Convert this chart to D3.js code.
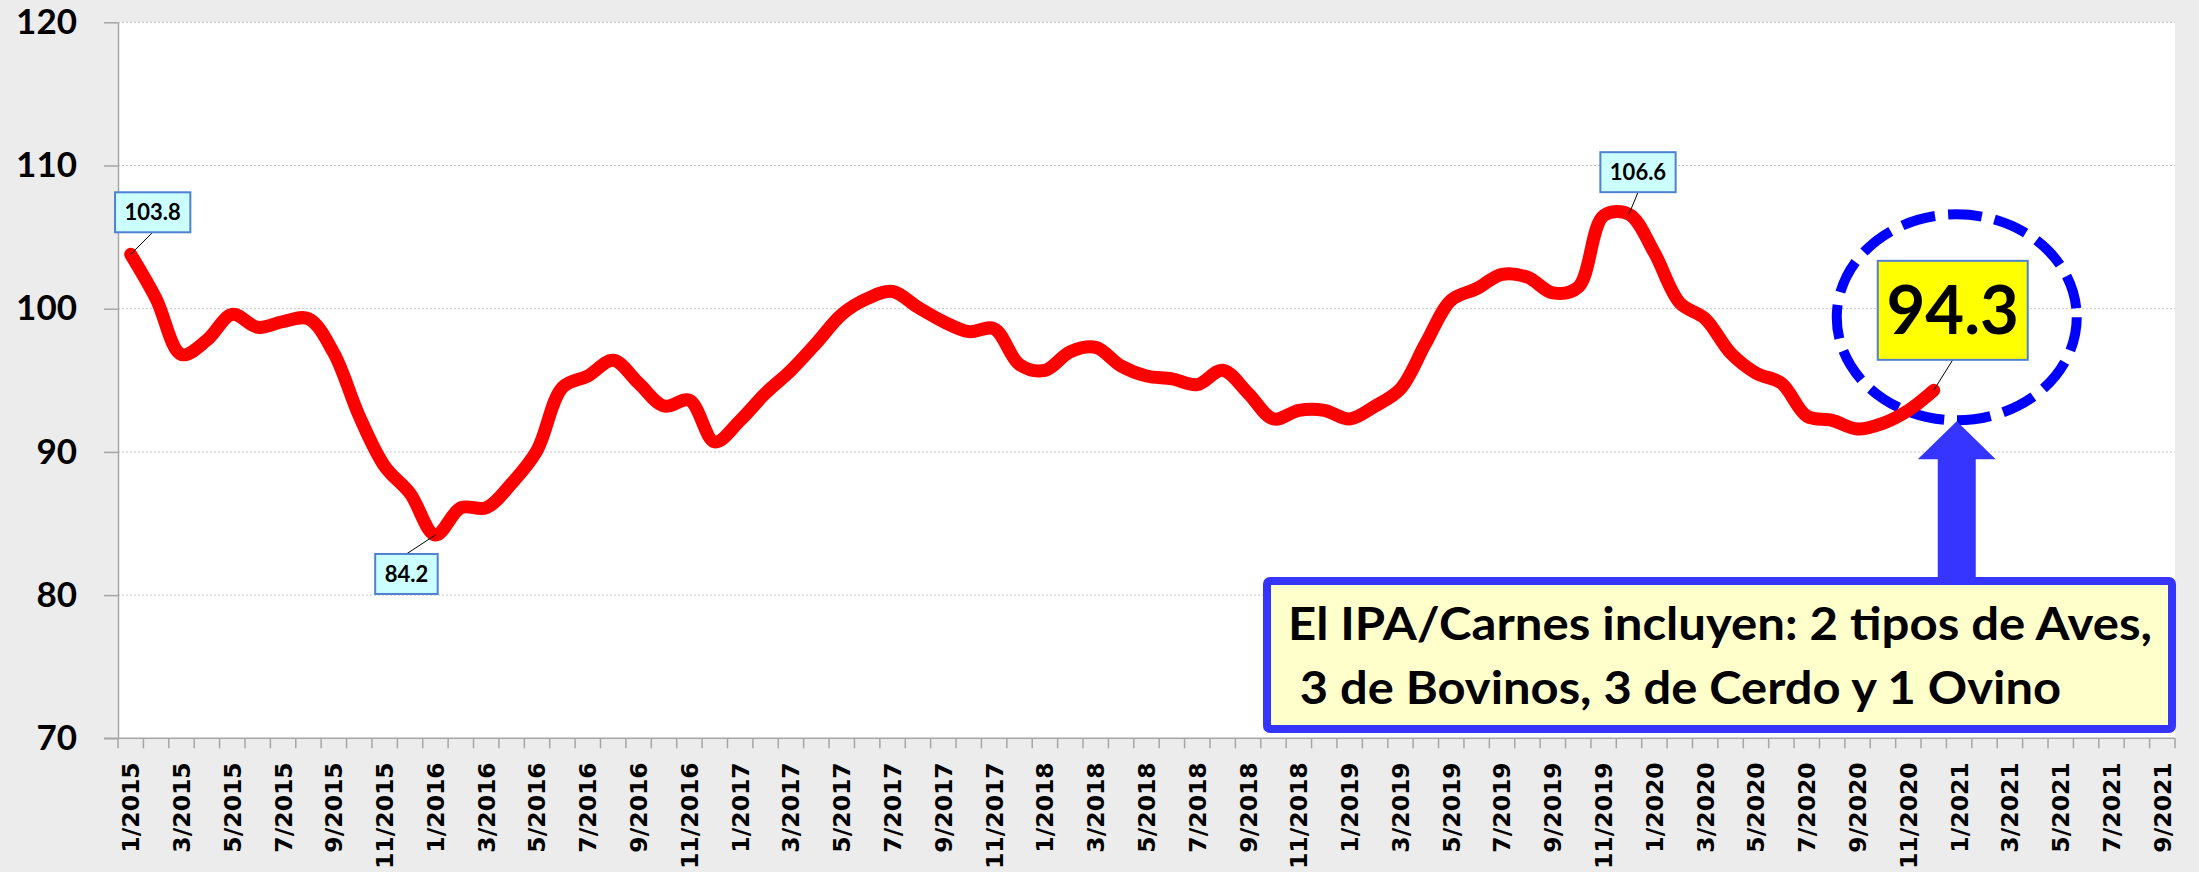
<!DOCTYPE html>
<html lang="es">
<head>
  <meta charset="UTF-8" />
  <title>IPA Carnes</title>
  <style>
    body {
      margin: 0;
      background: #ececec;
    }
    svg text {
      font-family: Lato, "Open Sans", sans-serif;
      font-weight: bold;
    }
    .xlab {
      font-family: "DejaVu Sans", Verdana, sans-serif !important;
      font-size: 23.5px;
    }
  </style>
</head>
<body>
  <div id="chart"></div>

  <script src="https://d3js.org/d3.v7.min.js"></script>
  <script>
    // monthly categories 1/2015 .. 9/2021
    const years = [2015, 2016, 2017, 2018, 2019, 2020, 2021];
    const months = years.flatMap(y => d3.range(1, 13).map(m => `${m}/${y}`)).slice(0, 81);
    const tickLabels = months.filter((d, i) => i % 2 === 0);

    // IPA / Carnes, 1/2015 .. 12/2020
    const ipa = [
      103.8, 100.7, 96.8, 97.8, 99.6, 98.7, 99.1, 99.3, 96.9, 92.5, 89.0, 87.1,
      84.2, 86.1, 86.1, 87.8, 90.1, 94.5, 95.3, 96.4, 94.8, 93.2, 93.6, 90.7,
      92.2, 94.1, 95.7, 97.6, 99.6, 100.7, 101.2, 100.1, 99.1, 98.4, 98.6, 96.1,
      95.7, 97.0, 97.3, 96.0, 95.3, 95.1, 94.7, 95.7, 94.1, 92.3, 92.9, 92.9,
      92.3, 93.2, 94.4, 97.6, 100.6, 101.4, 102.4, 102.2, 101.1, 101.5, 106.5, 106.6,
      103.9, 100.4, 99.3, 96.9, 95.5, 94.8, 92.5, 92.2, 91.6, 92.0, 92.9, 94.3
    ];
    const yTicks = [70, 80, 90, 100, 110, 120];
    const labelIdx = [0, 12, 59];
    const lastIdx = ipa.length - 1;
    const noteLines = ["El IPA/Carnes incluyen: 2 tipos de Aves,", " 3 de Bovinos, 3 de Cerdo y 1 Ovino"];

    const W = 2199, H = 872;
    const margin = {top: 22.3, right: 24, bottom: 133.7, left: 118};

    const svg = d3.select("#chart")
      .append("svg")
        .attr("width", W)
        .attr("height", H);

    const x = d3.scaleBand()
      .domain(months)
      .range([margin.left, W - margin.right]);
    const bw = x.bandwidth();
    const cx = i => x(months[i]) + bw / 2;

    const y = d3.scaleLinear()
      .domain([70, 120])
      .range([H - margin.bottom, margin.top]);

    // backgrounds
    svg.append("rect").attr("width", W).attr("height", H).attr("fill", "#ececec");
    svg.append("rect")
      .attr("x", margin.left).attr("y", margin.top)
      .attr("width", W - margin.left - margin.right)
      .attr("height", H - margin.top - margin.bottom)
      .attr("fill", "#fff");

    // gridlines
    svg.append("g").selectAll("line")
      .data(yTicks.filter(d => d > 70))
      .join("line")
        .attr("x1", margin.left).attr("x2", W - margin.right)
        .attr("y1", d => y(d)).attr("y2", d => y(d))
        .attr("stroke", "#c4c4c4")
        .attr("stroke-width", 1)
        .attr("stroke-dasharray", "2,2");

    // y axis
    const yAxis = svg.append("g")
      .attr("transform", `translate(${margin.left},0)`)
      .call(d3.axisLeft(y).tickValues(yTicks).tickSize(14).tickSizeOuter(0).tickPadding(27));
    yAxis.selectAll("path, line").attr("stroke", "#a6a6a6").attr("stroke-width", 1.5);
    yAxis.selectAll("text")
      .attr("fill", "#000")
      .style("font-family", "Lato, sans-serif")
      .style("font-weight", "bold")
      .style("font-size", "35px");

    // x axis (ticks between categories)
    const x0 = y(70);
    svg.append("line")
      .attr("x1", margin.left - 14).attr("x2", W - margin.right)
      .attr("y1", x0).attr("y2", x0)
      .attr("stroke", "#a6a6a6").attr("stroke-width", 1.5);
    svg.append("g").selectAll("line")
      .data(d3.range(months.length + 1))
      .join("line")
        .attr("x1", i => margin.left + i * bw).attr("x2", i => margin.left + i * bw)
        .attr("y1", x0).attr("y2", x0 + 10)
        .attr("stroke", "#a6a6a6").attr("stroke-width", 1.5);
    svg.append("g").selectAll("text")
      .data(tickLabels)
      .join("text")
        .attr("class", "xlab")
        .attr("transform", d => `translate(${x(d) + bw / 2},${x0 + 24}) rotate(-90)`)
        .attr("text-anchor", "end")
        .attr("dy", "0.36em")
        .attr("fill", "#000")
        .text(d => d);

    // dashed ellipse around last value
    const px = cx(lastIdx), py = y(ipa[lastIdx]);
    svg.append("ellipse")
      .attr("cx", px + 23).attr("cy", py - 73)
      .attr("rx", 120).attr("ry", 103)
      .attr("fill", "none")
      .attr("stroke", "#0000ff")
      .attr("stroke-width", 10)
      .attr("stroke-dasharray", "34,13");

    // the series
    const line = d3.line()
      .x((d, i) => cx(i))
      .y(d => y(d))
      .curve(d3.curveCatmullRom.alpha(0.5));
    svg.append("path")
      .datum(ipa)
      .attr("d", line)
      .attr("fill", "none")
      .attr("stroke", "#ff0000")
      .attr("stroke-width", 13)
      .attr("stroke-linejoin", "round")
      .attr("stroke-linecap", "round");

    // small data labels
    const offs = {0: [22, -42], 12: [-29, 39], 59: [9, -42]};
    labelIdx.forEach(i => {
      const ptx = cx(i), pty = y(ipa[i]);
      const bx = ptx + offs[i][0], by = pty + offs[i][1];
      const g = svg.append("g");
      const edge = offs[i][1] < 0 ? by + 20 : by - 20;
      g.append("line")
        .attr("x1", ptx).attr("y1", pty)
        .attr("x2", bx).attr("y2", edge)
        .attr("stroke", "#000").attr("stroke-width", 1);
      const rect = g.append("rect");
      const t = g.append("text")
        .attr("x", bx).attr("y", by)
        .attr("text-anchor", "middle")
        .attr("dy", "0.36em")
        .style("font-size", "22px")
        .text(ipa[i].toFixed(1));
      const tw = t.node().getComputedTextLength() + 19;
      rect.attr("x", bx - tw / 2).attr("y", by - 20)
        .attr("width", tw).attr("height", 40)
        .attr("fill", "#ccffff")
        .attr("stroke", "#4f81d0").attr("stroke-width", 2);
    });

    // big yellow label for the last value
    const yb = {x: px + 19, y: py - 80};
    svg.append("line")
      .attr("x1", px).attr("y1", py)
      .attr("x2", yb.x).attr("y2", yb.y + 49.5)
      .attr("stroke", "#000").attr("stroke-width", 1);
    svg.append("rect")
      .attr("x", yb.x - 75).attr("y", yb.y - 49.5)
      .attr("width", 150).attr("height", 99)
      .attr("fill", "#ffff00")
      .attr("stroke", "#4f81d0").attr("stroke-width", 2);
    svg.append("text")
      .attr("x", yb.x).attr("y", yb.y)
      .attr("text-anchor", "middle")
      .attr("dy", "0.36em")
      .style("font-size", "67px")
      .text(ipa[lastIdx].toFixed(1));

    // arrow up from the note
    const ax = px + 23, ay = py + 31;
    svg.append("path")
      .attr("d", `M${ax},${ay} L${ax + 39},${ay + 38} L${ax + 19},${ay + 38} L${ax + 19},${ay + 160}
                  L${ax - 19},${ay + 160} L${ax - 19},${ay + 38} L${ax - 39},${ay + 38} Z`)
      .attr("fill", "#3535ff");

    // note box
    const note = {x: 1267, y: 581, w: 905, h: 148};
    svg.append("rect")
      .attr("x", note.x).attr("y", note.y)
      .attr("width", note.w).attr("height", note.h)
      .attr("rx", 3)
      .attr("fill", "#ffffcc")
      .attr("stroke", "#3535ff")
      .attr("stroke-width", 8);
    const lens = [864, 773];
    noteLines.forEach((s, k) => {
      svg.append("text")
        .attr("x", 1288).attr("y", 640 + k * 64)
        .attr("textLength", lens[k])
        .attr("lengthAdjust", "spacingAndGlyphs")
        .style("white-space", "pre")
        .style("font-size", "46px")
        .text(s);
    });
  </script>
</body>
</html>
